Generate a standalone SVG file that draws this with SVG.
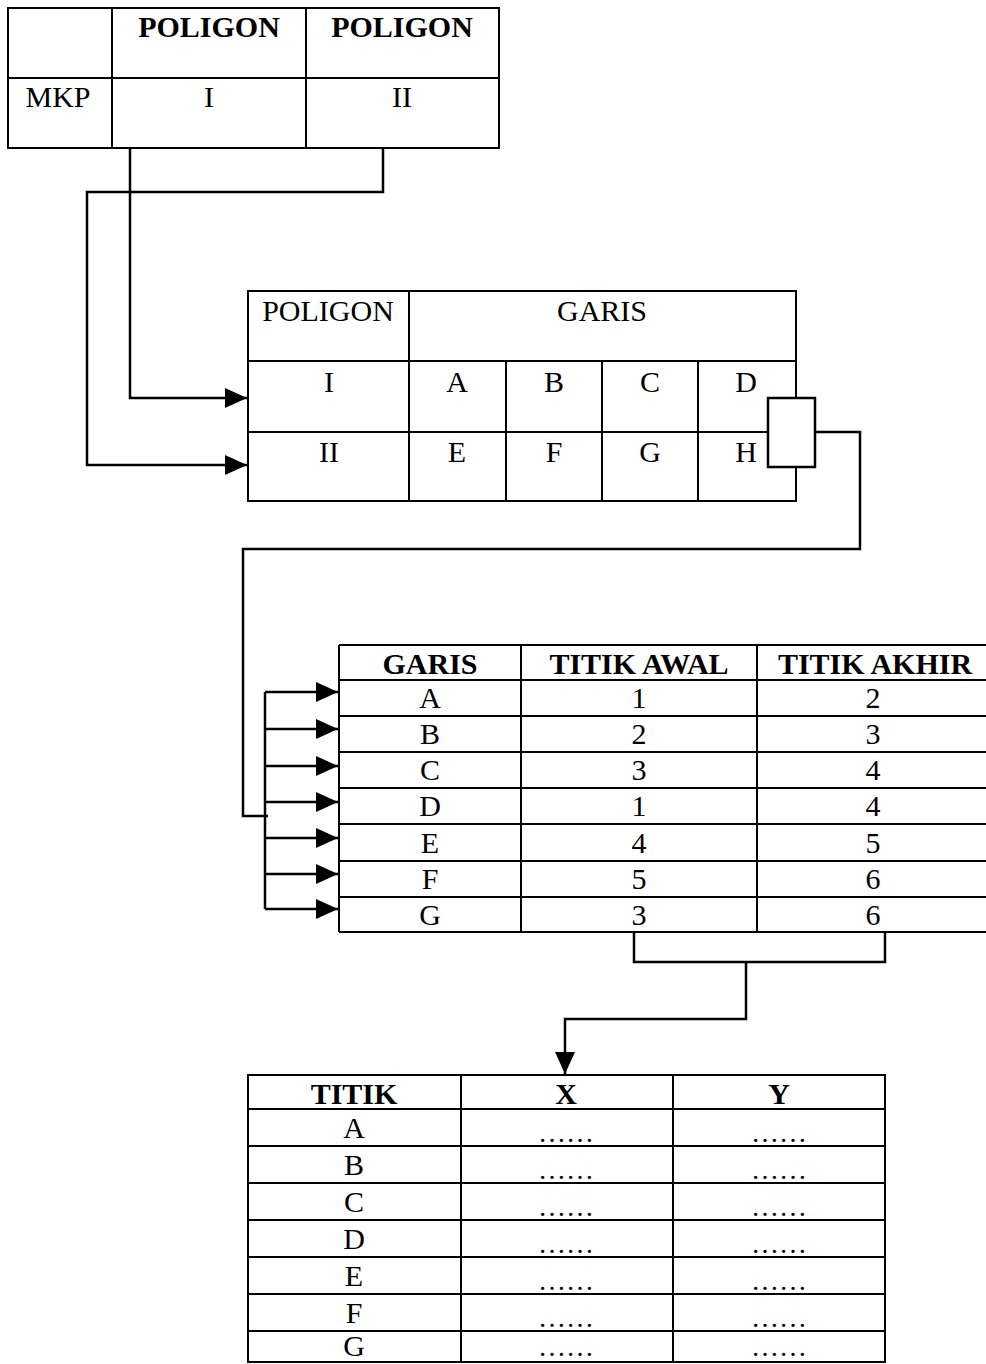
<svg xmlns="http://www.w3.org/2000/svg" width="986" height="1364" viewBox="0 0 986 1364">
<defs>
<style>
.t{font-family:"Liberation Serif","Times New Roman",serif;font-size:30px;fill:#000;text-anchor:middle}
.b{font-weight:bold}
.dots{font-size:28px}
.grid{fill:none;stroke:#000;stroke-width:2}
.con{fill:none;stroke:#000;stroke-width:2.5}
</style>
<marker id="ah" viewBox="0 0 22 20" refX="22" refY="10" markerWidth="22" markerHeight="20" markerUnits="userSpaceOnUse" orient="auto">
<path d="M0,0 L22,10 L0,20 Z" fill="#000"/>
</marker>
</defs>
<rect width="986" height="1364" fill="#fff"/>

<g id="table-mkp">
<rect class="grid" x="8" y="8" width="491" height="140"/>
<path class="grid" d="M8,78 H499 M112,8 V148 M306,8 V148"/>
<text class="t b" x="209" y="37">POLIGON</text>
<text class="t b" x="402" y="37">POLIGON</text>
<text class="t" x="58" y="107">MKP</text>
<text class="t" x="209" y="107">I</text>
<text class="t" x="402" y="107">II</text>
</g>

<g id="table-poligon">
<rect class="grid" x="248" y="291" width="548" height="210"/>
<path class="grid" d="M248,361 H796 M248,432 H796 M409,291 V501 M506,361 V501 M602,361 V501 M698,361 V501"/>
<text class="t" x="328" y="321">POLIGON</text>
<text class="t" x="602" y="321">GARIS</text>
<text class="t" x="329" y="392">I</text>
<text class="t" x="457" y="392">A</text>
<text class="t" x="554" y="392">B</text>
<text class="t" x="650" y="392">C</text>
<text class="t" x="746" y="392">D</text>
<text class="t" x="329" y="462">II</text>
<text class="t" x="457" y="462">E</text>
<text class="t" x="554" y="462">F</text>
<text class="t" x="650" y="462">G</text>
<text class="t" x="746" y="462">H</text>
</g>

<g id="selector-box">
<rect x="768" y="398" width="47" height="69" fill="#fff" stroke="#000" stroke-width="2.5"/>
</g>

<g id="table-garis">
<path class="grid" d="M339,645 H986 M339,680 H986 M339,716 H986 M339,752 H986 M339,788 H986 M339,824 H986 M339,861 H986 M339,897 H986 M339,932 H986 M339,645 V932 M521,645 V932 M757,645 V932"/>
<text class="t b" x="430" y="674">GARIS</text>
<text class="t b" x="639" y="674">TITIK AWAL</text>
<text class="t b" x="875" y="674">TITIK AKHIR</text>
<text class="t" x="430" y="708">A</text><text class="t" x="639" y="708">1</text><text class="t" x="873" y="708">2</text>
<text class="t" x="430" y="744">B</text><text class="t" x="639" y="744">2</text><text class="t" x="873" y="744">3</text>
<text class="t" x="430" y="780">C</text><text class="t" x="639" y="780">3</text><text class="t" x="873" y="780">4</text>
<text class="t" x="430" y="816">D</text><text class="t" x="639" y="816">1</text><text class="t" x="873" y="816">4</text>
<text class="t" x="430" y="853">E</text><text class="t" x="639" y="853">4</text><text class="t" x="873" y="853">5</text>
<text class="t" x="430" y="889">F</text><text class="t" x="639" y="889">5</text><text class="t" x="873" y="889">6</text>
<text class="t" x="430" y="925">G</text><text class="t" x="639" y="925">3</text><text class="t" x="873" y="925">6</text>
</g>

<g id="table-titik">
<rect class="grid" x="248" y="1075" width="637" height="287"/>
<path class="grid" d="M248,1109 H885 M248,1146 H885 M248,1183 H885 M248,1220 H885 M248,1257 H885 M248,1294 H885 M248,1331 H885 M461,1075 V1362 M673,1075 V1362"/>
<text class="t b" x="354" y="1104">TITIK</text>
<text class="t b" x="566" y="1104">X</text>
<text class="t b" x="779" y="1104">Y</text>
<text class="t" x="354" y="1138">A</text><text class="t dots" x="566" y="1142">……</text><text class="t dots" x="779" y="1142">……</text>
<text class="t" x="354" y="1175">B</text><text class="t dots" x="566" y="1179">……</text><text class="t dots" x="779" y="1179">……</text>
<text class="t" x="354" y="1212">C</text><text class="t dots" x="566" y="1216">……</text><text class="t dots" x="779" y="1216">……</text>
<text class="t" x="354" y="1249">D</text><text class="t dots" x="566" y="1253">……</text><text class="t dots" x="779" y="1253">……</text>
<text class="t" x="354" y="1286">E</text><text class="t dots" x="566" y="1290">……</text><text class="t dots" x="779" y="1290">……</text>
<text class="t" x="354" y="1323">F</text><text class="t dots" x="566" y="1327">……</text><text class="t dots" x="779" y="1327">……</text>
<text class="t" x="354" y="1356">G</text><text class="t dots" x="566" y="1356">……</text><text class="t dots" x="779" y="1356">……</text>
</g>

<g id="connectors">
<path class="con" d="M130,148 V398 H247" marker-end="url(#ah)"/>
<path class="con" d="M383,148 V192 H87 V465 H247" marker-end="url(#ah)"/>
<path class="con" d="M815,432 H860 V549 H243 V816 H268"/>
<path class="con" d="M265,692 V909"/>
<path class="con" d="M265,692 H338" marker-end="url(#ah)"/>
<path class="con" d="M265,729 H338" marker-end="url(#ah)"/>
<path class="con" d="M265,766 H338" marker-end="url(#ah)"/>
<path class="con" d="M265,802 H338" marker-end="url(#ah)"/>
<path class="con" d="M265,838 H338" marker-end="url(#ah)"/>
<path class="con" d="M265,874 H338" marker-end="url(#ah)"/>
<path class="con" d="M265,909 H338" marker-end="url(#ah)"/>
<path class="con" d="M634,932 V962 H885 V932"/>
<path class="con" d="M746,962 V1019 H565 V1074" marker-end="url(#ah)"/>
</g>
</svg>
